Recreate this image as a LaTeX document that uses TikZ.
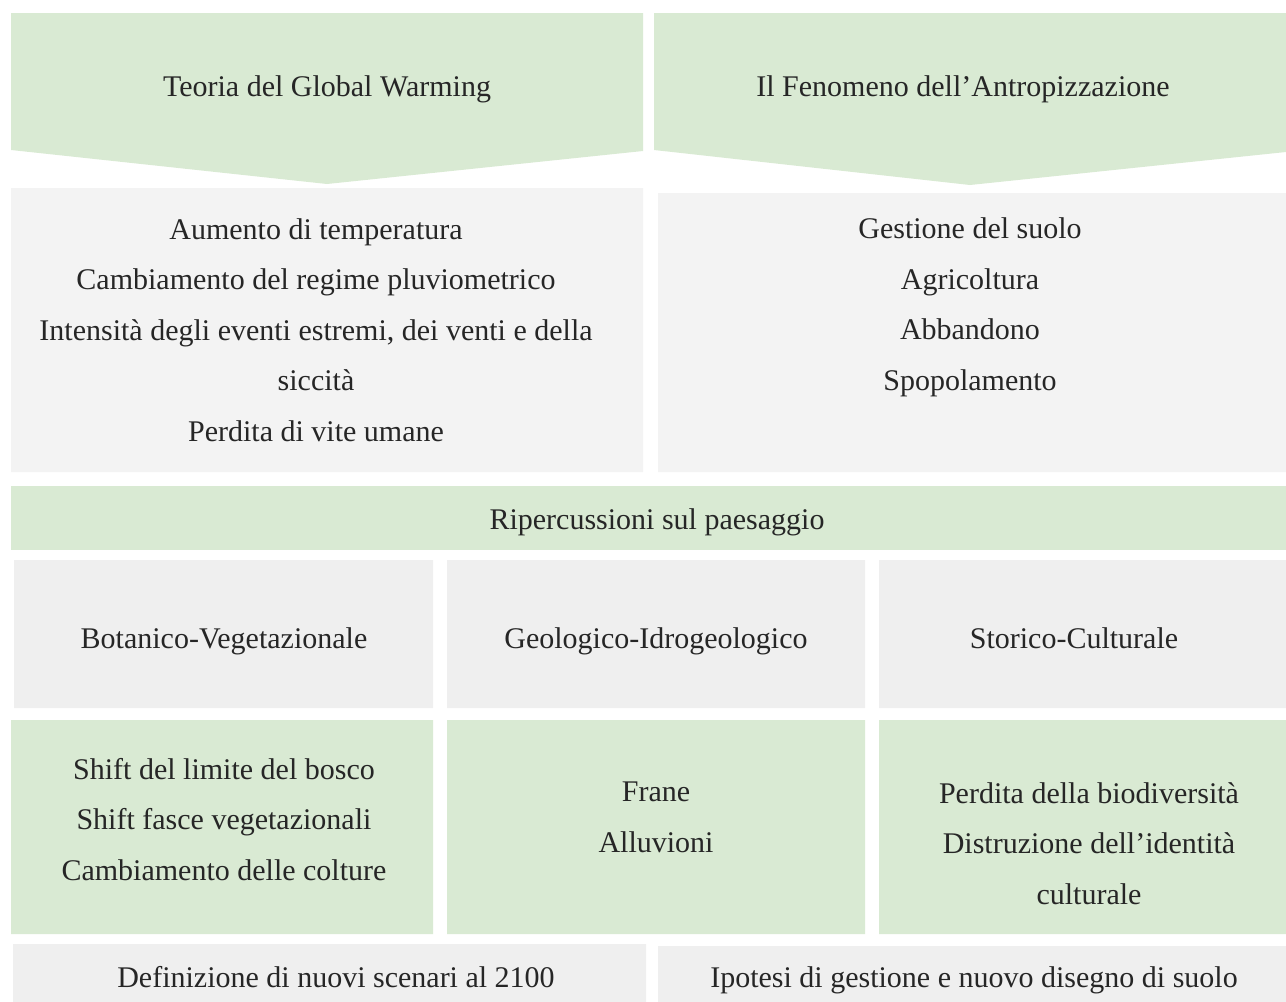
\documentclass[tikz,border=0pt]{standalone}
\usepackage{fontspec}
\setmainfont{Liberation Serif}
\definecolor{verde}{HTML}{D9EAD3}
\definecolor{grigioA}{HTML}{F3F3F3}
\definecolor{grigioB}{HTML}{EFEFEF}
\tikzset{
	testo/.style={align=center,anchor=base,inner sep=0pt,text=black!85,font=\fontsize{15}{25.25}\selectfont}
}

\begin{document}
\begin{tikzpicture}[x=0.5pt,y=-0.5pt]
			\useasboundingbox (0,0) rectangle (1286,1002);
			% frecce in alto
			\fill[verde] (11,13) -- (643,13) -- (643,151) -- (327,184) -- (11,150) -- cycle;
			\fill[verde] (654,13) -- (1286,13) -- (1286,152) -- (970,185) -- (654,150) -- cycle;
			% riquadri
			\fill[grigioA] (11,188) rectangle (643,472) (658,193) rectangle (1286,472);
			\fill[verde] (11,486) rectangle (1286,550);
			\fill[grigioB] (14,560) rectangle (433,708) (447,560) rectangle (865,708) (879,560) rectangle (1286,708);
			\fill[verde] (11,720) rectangle (433,934) (447,720) rectangle (865,934) (879,720) rectangle (1286,934);
			\fill[grigioB] (13,944) rectangle (646,1002) (658,946) rectangle (1286,1002);
			% testi (base = ultima riga)
			\node[testo] (gw) at (327,96) {Teoria del Global Warming};
			\node[testo] (antrop) at (963,96) {Il Fenomeno dell’Antropizzazione};
			\node[testo] (effettiGW) at (316,441) {Aumento di temperatura\\Cambiamento del regime pluviometrico\\Intensità degli eventi estremi, dei venti e della\\siccità\\Perdita di vite umane};
			\node[testo] (effettiAntrop) at (970,390) {Gestione del suolo\\Agricoltura\\Abbandono\\Spopolamento};
			\node[testo] (ripercussioni) at (657,529) {Ripercussioni sul paesaggio};
			\node[testo] (botanico) at (224,648) {Botanico-Vegetazionale};
			\node[testo] (geologico) at (656,648) {Geologico-Idrogeologico};
			\node[testo] (storico) at (1074,648) {Storico-Culturale};
			\node[testo] (shift) at (224,880) {Shift del limite del bosco\\Shift fasce vegetazionali\\Cambiamento delle colture};
			\node[testo] (frane) at (656,852) {Frane\\Alluvioni};
			\node[testo] (perdita) at (1089,904) {Perdita della biodiversità\\Distruzione dell’identità\\culturale};
			\node[testo] (scenari) at (336,987) {Definizione di nuovi scenari al 2100};
			\node[testo] (ipotesi) at (974,987) {Ipotesi di gestione e nuovo disegno di suolo};
		\end{tikzpicture}
\end{document}
